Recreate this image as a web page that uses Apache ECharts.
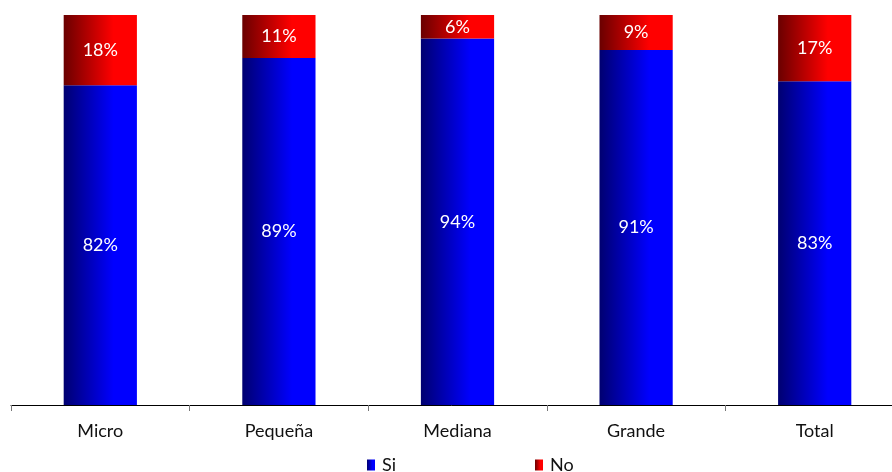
<!DOCTYPE html>
<html>
<head>
<meta charset="utf-8">
<script src="https://cdn.jsdelivr.net/npm/echarts@6/dist/echarts.min.js"></script>
<style>
  html, body { margin: 0; padding: 0; background: #fff; }
  #chart { width: 892px; height: 472px; }
</style>
</head>
<body>
<div id="chart"></div>
<script>
const categories = ['Micro', 'Pequeña', 'Mediana', 'Grande', 'Total']
const siValues = [82, 89, 94, 91, 83]
const noValues = [18, 11, 6, 9, 17]

const grad = (dark, bright) => new echarts.graphic.LinearGradient(0, 0, 1, 0, [
  {offset: 0, color: dark},
  {offset: 0.68, color: bright},
  {offset: 1, color: bright}
])

const myChart = echarts.init(document.getElementById('chart'))
const labelStyle = {
  show: true,
  position: 'inside',
  color: '#fff',
  fontFamily: 'Lato',
  fontSize: 18,
  formatter: (p) => p.value + '%'
}
const legendBase = {
  top: 456,
  padding: 0,
  itemWidth: 8,
  itemHeight: 11,
  icon: 'rect',
  textStyle: {fontFamily: 'Lato', fontSize: 18, color: '#111', padding: [0, 0, 0, 2]}
}
const option = {
  animation: false,
  grid: {left: 11, top: 15, width: 893, height: 390, outerBoundsMode: 'none', containLabel: false},
  legend: [
    Object.assign({left: 367, data: ['Si']}, legendBase),
    Object.assign({left: 535, data: ['No']}, legendBase)
  ],
  xAxis: {
    type: 'category',
    data: categories,
    axisLine: {show: true, lineStyle: {color: '#000', width: 1}},
    axisTick: {show: true, length: 6, lineStyle: {color: '#777'}},
    axisLabel: {color: '#111', fontFamily: 'Lato', fontSize: 18, margin: 17}
  },
  yAxis: {type: 'value', min: 0, max: 100, show: false},
  series: [
    {
      name: 'Si',
      type: 'bar',
      stack: 'total',
      barWidth: '41%',
      data: siValues,
      itemStyle: {color: grad('#000070', '#0000ff')},
      label: labelStyle
    },
    {
      name: 'No',
      type: 'bar',
      stack: 'total',
      barWidth: '41%',
      data: noValues,
      itemStyle: {color: grad('#6a0000', '#ff0000')},
      label: labelStyle
    }
  ]
}
myChart.setOption(option)
</script>
</body>
</html>
